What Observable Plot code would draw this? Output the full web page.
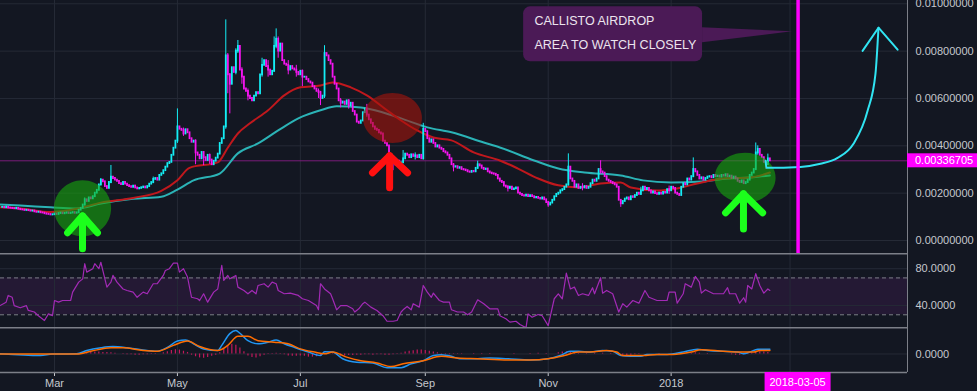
<!DOCTYPE html>
<html><head><meta charset="utf-8">
<script src="https://cdn.jsdelivr.net/npm/d3@7"></script>
<script src="https://cdn.jsdelivr.net/npm/@observablehq/plot@0.6"></script>
<style>
html,body{margin:0;padding:0;background:#131722;}
#wrap{width:977px;height:391px;overflow:hidden;}
#wrap svg{display:block;overflow:hidden;}
</style></head><body><div id="wrap"></div>
<script>
// ================= DATA =================
// day numbers are days since 2017-03-01; prices in units of 1e-5 BTC
const firstCandleDay = -26; // 2017-02-03
const closes = [
140,138,141,137,136, 135,134,136,132,130, 129,127,128,126,124,125, 121,119,120,117,116, 113,111,110,108,109,
112,110,114,116,113,115,117,114,116,118,115,117, 128, 136,150,172,165, 180,176,185, 200,212, 235,255,248, 228,220,
245,268,262, 255,250,240, 236,245,238,232, 228,225,230,222,218, 220,223,226,222,228, 238,245,258,262,255,275,
282,295,310,325,330, 360,390,420,480, 470,465,450,468,455, 430,415,420, 370, 360,345,372,350,338,360,340,
320,335,348,365, 410,430, 480, 780, 700,660, 730,710, 800,820, 720,690, 640,630,610, 600,590, 610,625,620,
700,740, 760,735, 720,700,715, 820, 850,800,830, 760,745, 740,720,735,725, 720,710,700,715,690,
690,680,670,665, 650,640,630,625, 600,610, 790, 780,760,745, 690,660,640, 590, 580,585,575,590,570,580,
545,530, 500,495,505, 540,555,530, 510,495,480, 470,465,455,450, 420,410,400, 360,350, 330,320,335,325,328,
345,365,360,350, 362,355,358,350,360, 345, 470,460, 430,415,425, 410,395,400,390,385, 375,370,360,345,
320,310,312,305,308,300,298, 295,290,288,292,290, 305,320,315, 305,300,302, 290,285,282,280,275, 260,250,245,
230,225,220,225,215,218,222, 200,195,190,188,192,185,190, 185,180,182,178,175,180,172, 160,150,158,
170,185,195,200,210, 215,225,235, 310, 260,250, 225,235,220, 225,222,228,220,225, 240,255,250,260, 300,290,285,
270,255,250,245, 240,235,225, 170,155,165, 175,180,172,185, 182,190,200,195,210, 225,215,220, 210,200,205,
198,195,200,196,203,200,215,210, 225,220,200,195, 190, 225,240,235, 260,255,270, 300,290,275,
260,265,255,262,268, 270,265,275,270,272,268,275,272, 278,270,272,262,268, 260,250,245,252,240,245,255,
275,285,300, 370,385, 360,350,330, 320,345, 336.705
];
// notable wicks: [day, low, high]
const wicks = [
[15,146,180],[23,230,262],[28,240,317],[49,240,268],[61,410,556],[64,440,475],[70,320,425],[74,316,360],[77,322,365],
[85,470,932],[86,620,790],[87,535,705],[90,700,810],[91,790,845],[93,660,730],[96,590,640],[103,690,770],[106,690,760],
[109,710,860],[110,810,894],[111,770,860],[116,700,760],[120,690,740],[123,650,720],[131,600,640],[132,570,630],
[134,600,823],[142,560,600],[146,555,595],[155,520,575],[167,325,365],[168,295,345],[173,330,380],[179,340,370],
[183,340,495],[198,290,325],[210,300,335],[225,205,232],[245,140,165],[255,230,366],[262,210,240],[271,280,337],
[281,140,172],[291,190,225],[305,195,230],[317,265,349],[348,295,412],[349,360,400],[353,300,330],[354,318,365]
];
// red (fast) moving average: [day, value]
const maFast = [[-27,140],[-17,135],[-2,120],[11,134],[23,160],[39,180],[53,210],[61,255],[67,307],[81,330],[86,392],
[91,452],[97,495],[106,550],[114,613],[122,647],[132,655],[138,668],[147,647],[155,613],[165,550],[172,507],[180,465],
[188,435],[197,423],[208,372],[221,338],[230,304],[240,262],[250,233],[260,224],[271,241],[281,245],[286,224],[299,211],
[309,220],[319,241],[332,262],[345,266],[355,287]];
// teal (slow) moving average
const maSlow = [[-27,152],[-17,148],[-2,140],[11,135],[23,156],[39,176],[53,185],[61,215],[69,254],[82,283],[91,368],
[101,410],[111,465],[121,516],[132,550],[140,567],[152,562],[163,541],[172,516],[185,478],[197,457],[213,414],[221,393],
[238,338],[250,304],[263,287],[281,275],[292,254],[306,245],[321,249],[334,262],[345,266],[355,275]];
// RSI: [day, value]
const rsi = [[-27,40],[-24,43.7],[-23,51],[-21,49],[-20,40],[-17,37.6],[-14,40],[-13,34.7],[-10,33],[-8,29],[-5,23.8],
[-3,31],[-1,29],[0,45.5],[2,43.7],[4,45.5],[8,45.5],[9,54.6],[12,65.4],[14,69],[15,85.4],[16,76.3],[19,80],[20,85.4],
[22,80],[23,87],[24,78],[26,60],[28,65.4],[29,72.7],[31,65.4],[34,58],[36,56.4],[39,54.6],[41,49],[44,54.6],[46,52.8],
[49,63.7],[51,63.7],[54,72.7],[55,78],[57,80],[59,86],[61,86],[62,76.3],[64,80],[66,71],[68,49],[71,47.4],[72,45.5],
[74,52.8],[76,43.7],[79,54.6],[81,58],[82,71],[83,83.6],[84,67.3],[86,72.7],[87,69],[90,72.7],[91,60],[94,56.4],
[96,52.8],[98,56.4],[100,52.8],[101,61.8],[104,63.7],[106,60],[108,65.4],[110,63.7],[111,56.4],[114,52.8],[117,53.5],
[121,51],[123,47.4],[126,45.5],[130,40],[131,35.4],[132,63.7],[134,58],[137,52.8],[138,47.4],[140,35.4],[142,40],
[145,40],[148,36.5],[149,33],[151,36.5],[153,42],[154,43.7],[157,38.3],[160,34.7],[163,29],[165,23],[168,23],
[170,23.8],[172,33],[173,35.4],[175,39],[177,35.4],[178,42],[181,38.3],[183,61.8],[185,54.6],[187,49],[188,53.5],
[191,45.5],[193,43.7],[196,43.7],[197,35.4],[200,33],[203,33],[205,30],[207,33],[210,46.3],[213,42],[216,36.5],
[220,36.5],[221,29],[224,25.6],[226,22],[229,23],[231,19.4],[234,16],[235,31],[237,27.4],[240,30.3],[242,29],
[245,18.3],[248,47.4],[250,52.8],[252,47.4],[254,75.2],[256,58],[258,60],[260,51],[262,52.8],[265,51],[267,59.4],
[268,52.8],[271,70.2],[272,53.5],[274,56.4],[277,52.8],[280,33],[282,42],[284,38.3],[287,45.5],[290,42.6],[293,56.4],
[295,49],[299,45.5],[304,45.5],[305,54.6],[308,54.6],[309,42.6],[312,52.8],[313,63.7],[316,60],[318,71.6],[320,65.4],
[321,53.5],[323,57.2],[327,52.8],[332,52.8],[334,59.4],[335,52.8],[338,52.8],[340,42.6],[342,48.5],[343,43.7],
[344,61.8],[346,58],[348,74.6],[350,61.8],[352,53.5],[354,58],[355,56.4]];
// MACD line, signal line, histogram: [day, value in 1e-5]
const macd = [[-27,0.5],[-7,-4],[-1,0],[11,0.5],[16,9],[23,16],[29,19],[36,16],[43,11],[51,7],[56,17],[61,33],[65,36],
[69,26],[74,13],[81,9],[83,22],[87,52],[90,60],[92,53],[96,34],[101,26],[106,30],[110,36],[114,26],[119,17],[126,5],
[132,-4],[134,6],[138,5],[143,-12],[150,-21],[158,-23],[165,-35],[172,-35],[177,-25],[183,-17],[188,-4],[192,-2],
[197,-6],[201,-12],[210,-12],[216,-10],[225,-12],[236,-15],[245,-12],[251,-4],[256,7],[260,7],[266,5],[272,9],[277,7],
[281,-4],[286,-6],[291,-6],[294,-1],[304,-1],[312,5],[319,12],[324,9],[339,5],[342,0.5],[345,5],[349,12],[355,12]];
const signal = [[-27,0],[11,0],[18,7],[28,16],[34,16],[44,9],[51,7],[59,22],[66,33],[72,19],[81,9],[86,22],[91,45],
[96,45],[101,34],[109,30],[116,26],[122,13],[129,5],[134,0.5],[138,5],[145,-8],[152,-17],[160,-23],[167,-32],[173,-25],
[183,-17],[192,-6],[200,-10],[210,-12],[225,-15],[236,-15],[245,-12],[253,-4],[260,5],[266,5],[274,9],[279,5],[282,-4],
[292,-4],[299,-1],[307,-1],[316,5],[321,11],[332,7],[340,5],[347,5],[350,9],[355,9]];
const hist = [[14,2],[16,3],[18,4],[20,5],[22,5],[24,4],[26,4],[28,3],[30,2],[34,-1],[36,-2],[38,-2],[40,-3],[42,-3],
[44,-2],[46,-2],[48,-1],[50,-1],[54,3],[56,6],[58,9],[60,11],[62,10],[64,7],[66,4],[68,-3],[70,-7],[72,-10],[74,-11],
[76,-9],[78,-6],[80,-3],[82,3],[84,12],[86,20],[88,25],[90,22],[92,15],[94,6],[96,-5],[98,-9],[100,-10],[102,-7],
[104,-3],[106,-1],[108,1],[110,2],[112,1],[114,-2],[116,-5],[118,-6],[120,-6],[122,-5],[124,-6],[126,-8],[128,-8],
[130,-7],[132,-5],[134,2],[136,2],[138,-1],[140,-4],[142,-6],[144,-5],[146,-4],[148,-4],[150,-3],[152,-3],[154,-2],
[156,-2],[158,-3],[160,-2],[162,-2],[164,-3],[166,-3],[168,-2],[170,-1],[172,2],[174,5],[176,7],[178,8],[180,10],
[182,10],[184,9],[186,7],[188,5],[190,3],[192,-1],[194,-2],[196,-2],[198,-1],[200,-1],[202,-1],[208,-1],[212,1],
[216,1],[228,1],[236,1],[240,2],[244,1],[250,3],[252,5],[254,6],[256,5],[258,4],[260,2],[264,1],[268,2],[272,2],
[276,-1],[280,-2],[282,-4],[284,-4],[286,-3],[288,-2],[290,-1],[300,1],[310,1],[316,2],[318,3],[320,2],[324,-1],
[336,-2],[338,-3],[340,-3],[342,-2],[344,1],[346,3],[348,5],[350,6],[352,5],[354,4]];
// axis ticks (the Mar 2018 label sits under the event-date marker, so it is left blank)
const timeTicks = ["2017-03-01","2017-05-01","2017-07-01","2017-09-01","2017-11-01","2018-01-01","2018-03-01"];
const timeTickLabels = ["Mar","May","Jul","Sep","Nov","2018",""];
const priceTicks = [0, 0.002, 0.004, 0.006, 0.008, 0.01];
const rsiTicks = [40, 80];
const rsiBands = [30, 70];
const macdTicks = [0];
const lastPrice = 0.00336705;
const eventDate = "2018-03-05";
// annotations (data space: day, price in 1e-5)
const calloutText = ["CALLISTO AIRDROP", "AREA TO WATCH CLOSELY"];
const calloutTextPos = [[238.2, 926], [238.2, 825]];
const calloutBox = [[232.8, 321.6, 755, 987]];
const calloutPointer = [[321.6, 835, 899], [366.3, 882, 882]];
const greenZones = [[13.9, 136], [342.7, 265]];
const redZones = [[167.7, 518]];
const greenArrows = [
  {id:"a1s", pts:[[13.9,-35],[13.9,104]]}, {id:"a1h", pts:[[6.5,32.5],[13.9,104],[21.3,32.5]]},
  {id:"a2s", pts:[[341.9,49],[341.9,197]]}, {id:"a2h", pts:[[333,117],[341.9,197],[351.4,117]]}];
const redArrows = [
  {id:"r1s", pts:[[166.3,223],[166.3,358]]}, {id:"r1h", pts:[[157.8,286],[166.3,358],[175.2,286]]}];
const forecastPath = [[352.9,336.7],[353.3,307],[370.2,311],[380.1,324],[388.6,349],[396.5,409],[403.5,548],[407.4,704],[408.9,899]];
const forecastHead = [[401,801],[408.9,899],[418.4,806]];

// ================= BUILD =================
const U = 1e-5;
const DAY0 = Date.UTC(2017, 2, 1);
const toDate = d => new Date(DAY0 + d * 864e5);
const xDomain = [toDate(-26.8), toDate(423.3)];
const BG = "#131722", GRID = "#252a36", TXT = "#c5c8ce", LINE = "#7c7f88";
const UP = "#14eef5", DOWN = "#f515f0", MAG = "#ff00ff";
const FONT = "'Liberation Sans', Arial, sans-serif";
const timeTickDates = timeTicks.map(s => new Date(s));
const fmtTime = d => timeTickLabels[timeTickDates.findIndex(t => +t === +d)] ?? "";

const candles = closes.map((c, i) => {
  const o = i ? closes[i - 1] : c;
  return {date: toDate(firstCandleDay + i), open: o * U, close: c * U, up: c >= o};
});
const wickRows = wicks.map(([d, lo, hi]) => {
  const c = candles[d - firstCandleDay];
  return {date: toDate(d), low: lo * U, high: hi * U, up: c ? c.up : true};
});
const pairs = arr => arr.map(([d, v]) => ({date: toDate(d), v}));
const pricePairs = arr => arr.map(([d, v]) => ({date: toDate(d), v: v * U}));
const arrowRows = list => list.flatMap(a => a.pts.map(([d, v]) => ({id: a.id, date: toDate(d), v: v * U})));

function ellipseSymbol(ratio) {
  return {draw(ctx, size) {
    const ry = Math.sqrt(size / Math.PI), rx = ry * ratio, k = 0.5523;
    ctx.moveTo(rx, 0);
    ctx.bezierCurveTo(rx, ry * k, rx * k, ry, 0, ry);
    ctx.bezierCurveTo(-rx * k, ry, -rx, ry * k, -rx, 0);
    ctx.bezierCurveTo(-rx, -ry * k, -rx * k, -ry, 0, -ry);
    ctx.bezierCurveTo(rx * k, -ry, rx, -ry * k, rx, 0);
    ctx.closePath();
  }};
}
const style = {background: BG, color: TXT, fontSize: "11px", fontFamily: FONT};
const rightEdge = [xDomain[1]];

// ---------- main price panel ----------
const yMainDomain = [-0.000549, 0.010139];
const main = Plot.plot({
  width: 977, height: 253, marginLeft: 0, marginRight: 70, marginTop: 0, marginBottom: 0,
  style,
  x: {type: "utc", domain: xDomain, axis: null},
  y: {domain: yMainDomain, axis: "right", ticks: priceTicks, tickFormat: d3.format(".8f"), tickSize: 0, tickPadding: 8, label: null},
  marks: [
    Plot.ruleX(timeTickDates, {stroke: GRID}),
    Plot.ruleY(priceTicks, {stroke: GRID}),
    Plot.ruleY([lastPrice], {stroke: "#7a1d7a", strokeWidth: 1}),
    Plot.rect(calloutBox, {x1: d => toDate(d[0]), x2: d => toDate(d[1]), y1: d => d[2] * U, y2: d => d[3] * U, fill: "#4b1a56", rx: 7}),
    Plot.areaY(calloutPointer, {x: d => toDate(d[0]), y1: d => d[1] * U, y2: d => d[2] * U, fill: "#4b1a56", curve: "linear"}),
    Plot.text(calloutText, {x: (d, i) => toDate(calloutTextPos[i][0]), y: (d, i) => calloutTextPos[i][1] * U, text: d => d,
      textAnchor: "start", fill: "#ece4ee", fontSize: 12.5, fontFamily: FONT}),
    Plot.line(pricePairs(maSlow), {x: "date", y: "v", stroke: "#2bb3b6", strokeWidth: 2, curve: "monotone-x"}),
    Plot.line(pricePairs(maFast), {x: "date", y: "v", stroke: "#c0181d", strokeWidth: 2, curve: "monotone-x"}),
    Plot.ruleX(wickRows.filter(d => d.up), {x: "date", y1: "low", y2: "high", stroke: UP, strokeWidth: 1}),
    Plot.ruleX(wickRows.filter(d => !d.up), {x: "date", y1: "low", y2: "high", stroke: DOWN, strokeWidth: 1}),
    Plot.ruleX(candles.filter(d => d.up), {x: "date", y1: "open", y2: "close", stroke: UP, strokeWidth: 1.8, strokeLinecap: "square"}),
    Plot.ruleX(candles.filter(d => !d.up), {x: "date", y1: "open", y2: "close", stroke: DOWN, strokeWidth: 1.8, strokeLinecap: "square"}),
    Plot.dot(greenZones.slice(0, 1), {x: d => toDate(d[0]), y: d => d[1] * U, r: 28, symbol: ellipseSymbol(1.02), fill: "#18a80e", fillOpacity: 0.6, stroke: "none"}),
    Plot.dot(greenZones.slice(1), {x: d => toDate(d[0]), y: d => d[1] * U, r: 25, symbol: ellipseSymbol(1.22), fill: "#18a80e", fillOpacity: 0.6, stroke: "none"}),
    Plot.dot(redZones, {x: d => toDate(d[0]), y: d => d[1] * U, r: 25, symbol: ellipseSymbol(1.18), fill: "#a6140c", fillOpacity: 0.6, stroke: "none"}),
    Plot.line(arrowRows(greenArrows), {x: "date", y: "v", z: "id", stroke: "#1cff1c", strokeWidth: 7, strokeLinecap: "round", strokeLinejoin: "round"}),
    Plot.line(arrowRows(redArrows), {x: "date", y: "v", z: "id", stroke: "#ff1010", strokeWidth: 7, strokeLinecap: "round", strokeLinejoin: "round"}),
    Plot.line(pricePairs(forecastPath), {x: "date", y: "v", stroke: "#30e4f2", strokeWidth: 2, curve: "monotone-x"}),
    Plot.line(pricePairs(forecastHead), {x: "date", y: "v", stroke: "#30e4f2", strokeWidth: 2}),
    Plot.ruleX([new Date(eventDate)], {stroke: MAG, strokeWidth: 3.5}),
    Plot.ruleX(rightEdge, {stroke: LINE})
  ]
});

// ---------- RSI panel ----------
const rsiDomain = [16.2, 96.5];
const rsiChart = Plot.plot({
  width: 977, height: 74, marginLeft: 0, marginRight: 70, marginTop: 0, marginBottom: 0,
  style,
  x: {type: "utc", domain: xDomain, axis: null},
  y: {domain: rsiDomain, axis: "right", ticks: rsiTicks, tickFormat: d3.format(".4f"), tickSize: 0, tickPadding: 8, label: null},
  marks: [
    Plot.rect([0], {x1: () => xDomain[0], x2: () => xDomain[1], y1: () => rsiBands[0], y2: () => rsiBands[1], fill: "#9c27b0", fillOpacity: 0.13}),
    Plot.ruleX(timeTickDates, {stroke: GRID}),
    Plot.ruleY(rsiTicks, {stroke: GRID}),
    Plot.ruleY(rsiBands, {stroke: LINE, strokeDasharray: "4,3"}),
    Plot.line(pairs(rsi), {x: "date", y: "v", stroke: "#a22ab5", strokeWidth: 1.2}),
    Plot.ruleY([rsiDomain[1]], {stroke: LINE, strokeWidth: 2}),
    Plot.ruleX(rightEdge, {stroke: LINE})
  ]
});

// ---------- MACD panel + time axis ----------
const macdDomain = [-47.2, 67.6];
const macdChart = Plot.plot({
  width: 977, height: 64, marginLeft: 0, marginRight: 70, marginTop: 0, marginBottom: 19,
  style,
  x: {type: "utc", domain: xDomain, ticks: timeTickDates, tickFormat: fmtTime, tickSize: 4, tickPadding: 3, label: null},
  y: {domain: macdDomain, axis: "right", ticks: macdTicks, tickFormat: d3.format(".4f"), tickSize: 0, tickPadding: 8, label: null},
  marks: [
    Plot.ruleX(timeTickDates, {stroke: GRID}),
    Plot.ruleY(macdTicks, {stroke: GRID}),
    Plot.ruleX(pairs(hist), {x: "date", y1: () => 0, y2: "v", stroke: "#c2185b", strokeWidth: 1.2}),
    Plot.line(pairs(macd), {x: "date", y: "v", stroke: "#2196f3", strokeWidth: 1.5, curve: "monotone-x"}),
    Plot.line(pairs(signal), {x: "date", y: "v", stroke: "#ff6d00", strokeWidth: 1.5, curve: "monotone-x"}),
    Plot.ruleY([macdDomain[1]], {stroke: LINE, strokeWidth: 2}),
    Plot.ruleY([macdDomain[0]], {stroke: LINE, strokeWidth: 1.5}),
    Plot.ruleX(rightEdge, {stroke: LINE})
  ]
});

const wrap = document.getElementById("wrap");
wrap.append(main, rsiChart, macdChart);

// ---------- scale-positioned labels ----------
function scaleFn(chart, name) {
  const s = chart.scale(name);
  if (s && typeof s.apply === "function") return v => s.apply(v);
  const sc = s.type === "utc" ? d3.scaleUtc() : d3.scaleLinear();
  return sc.domain(s.domain).range(s.range);
}
const xm = scaleFn(main, "x"), ym = scaleFn(main, "y");
const xr = xm(xDomain[1]), py = ym(lastPrice);
const gm = d3.select(main).append("g").attr("text-anchor", "start");
gm.append("rect").attr("x", xr).attr("y", py - 7).attr("width", 977 - xr).attr("height", 14).attr("fill", MAG);
gm.append("text").attr("x", xr + 8).attr("y", py).attr("dy", "0.35em").attr("fill", "#ffffff").attr("text-anchor", "start")
  .attr("font-size", 11).attr("font-family", FONT).text(d3.format(".8f")(lastPrice));

const xb = scaleFn(macdChart, "x");
const ex = xb(new Date(eventDate));
const gb = d3.select(macdChart).append("g");
gb.append("rect").attr("x", ex - 33).attr("y", 45).attr("width", 66).attr("height", 19).attr("fill", MAG);
gb.append("text").attr("x", ex).attr("y", 45 + 10).attr("dy", "0.35em").attr("text-anchor", "middle")
  .attr("fill", "#ffffff").attr("font-size", 11).attr("font-family", FONT).text(eventDate);
</script>
</body></html>
